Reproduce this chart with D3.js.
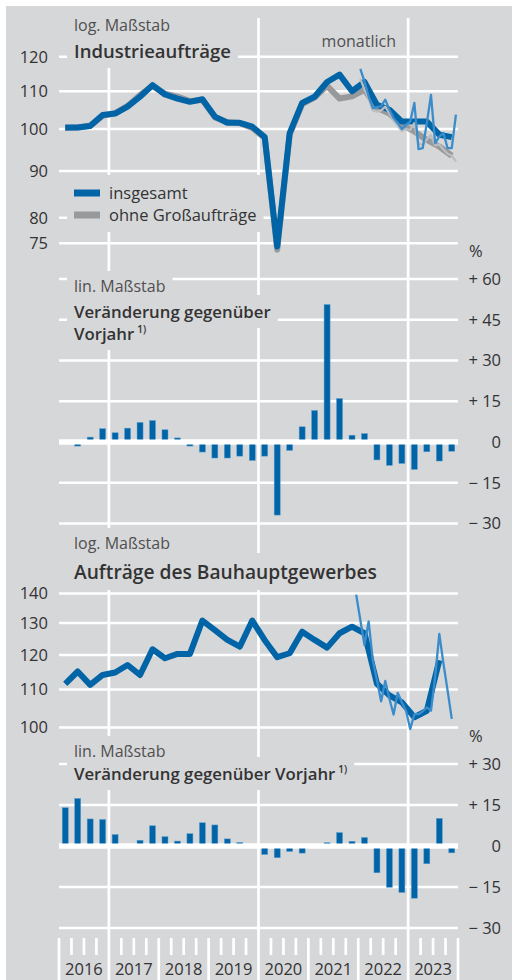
<!DOCTYPE html>
<html>
<head>
<meta charset="utf-8">
<script src="https://cdn.jsdelivr.net/npm/d3@7"></script>
<style>
body { margin: 0; background: #fff; }
svg { display: block; font-family: 'Open Sans', sans-serif; }
</style>
</head>
<body>
<svg id="chart" width="512" height="980"></svg>
<script>
let years = ['2016', '2017', '2018', '2019', '2020', '2021', '2022', '2023']

// Industrieaufträge, quarterly, 2016 Q1 .. 2023 Q4
let industryQ = [
	100.4, 100.4, 100.8, 103.6,
	104.0, 105.8, 108.5, 111.7,
	109.1, 108.0, 107.1, 107.8,
	103.2, 101.6, 101.6, 100.6,
	98.0, 74.4, 99.0, 106.8,
	108.5, 112.6, 114.7, 110.0,
	112.6, 106.3, 105.0, 101.9,
	101.9, 101.9, 98.6, 98.0
]
let industryExLargeQ = [
	100.3, 100.4, 100.9, 103.4,
	104.1, 106.0, 109.0, 111.5,
	109.3, 108.5, 107.3, 107.6,
	103.0, 101.8, 101.5, 100.3,
	97.8, 73.8, 98.6, 106.5,
	108.3, 111.5, 108.0, 108.6,
	110.4, 105.5, 104.0, 101.1,
	99.4, 97.3, 95.7, 93.5
]
// monthly from Jan 2022 (month index 72)
let industryMStart = 72
let industryM = [
	116.4, 112.7, 108.6, 105.4, 105.7, 105.9, 107.7, 105.0, 102.8, 101.5, 100.0, 101.1,
	101.9, 106.8, 95.1, 95.3, 101.5, 109.0, 96.5, 98.1, 99.0, 95.3, 95.3, 103.7
]
let industryExLargeM = [
	113.5, 110.5, 108.0, 104.8, 104.5, 104.8, 105.8, 104.0, 102.2, 100.8, 99.5, 100.0,
	99.8, 101.5, 96.5, 96.0, 97.5, 98.5, 96.0, 96.2, 95.0, 94.0, 93.5, 92.2
]
let industryYoY = [
	0, -1.5, 1.8, 4.9,
	3.4, 5.1, 7.2, 7.9,
	4.5, 1.5, -1.5, -3.7,
	-5.9, -5.9, -5.2, -6.8,
	-5.2, -26.9, -3.1, 5.6,
	11.6, 50.6, 16.0, 2.5,
	3.1, -6.6, -8.6, -7.9,
	-10.1, -3.6, -7.0, -3.4
]

// Aufträge des Bauhauptgewerbes, quarterly, 2016 Q1 .. 2023 Q3
let constructionQ = [
	111.6, 115.1, 111.3, 114.1,
	114.8, 117.0, 114.1, 121.7,
	119.0, 120.3, 120.3, 130.8,
	127.7, 124.6, 122.5, 130.8,
	124.5, 119.3, 120.5, 127.2,
	124.6, 122.2, 126.7, 128.8,
	126.7, 111.6, 108.4, 106.5,
	102.6, 104.3, 118.4
]
// monthly from Dec 2021 (month index 71)
let constructionMStart = 71
let constructionM = [
	139.6, 131.0, 123.0, 130.5, 118.4, 112.6, 106.8, 112.4, 107.5, 103.3, 109.1, 106.5,
	104.3, 99.6, 103.4, 103.4, 104.1, 105.2, 104.3, 113.5, 126.5, 117.4, 109.7, 102.2
]
let constructionYoY = [
	14.0, 17.4, 9.9, 9.7,
	4.2, 0, 2.1, 7.4,
	3.4, 1.8, 4.5, 8.5,
	7.7, 2.6, 1.3, -0.5,
	-3.1, -4.3, -2.0, -2.6,
	0.3, 1.2, 4.9, 1.7,
	3.1, -9.8, -15.1, -17.0,
	-19.1, -6.5, 10.1, -2.5
]

let industryTicks = [75, 80, 90, 100, 110, 120]
let constructionTicks = [100, 110, 120, 130, 140]
let yoyTicksTop = [-30, -15, 0, 15, 30, 45, 60]
let yoyTicksBottom = [-30, -15, 0, 15, 30]

let bg = '#d6d7d9'
let blue = '#0064a7'
let blueThin = '#3a8ccb'
let grayThick = '#98999b'
let grayThin = '#bcbdbf'
let ink = '#333333'
let soft = '#505050'

let svg = d3.select('#chart')

svg.append('rect')
	.attr('x', 6).attr('y', 6)
	.attr('width', 506).attr('height', 974)
	.attr('fill', bg)

let gridLayer = svg.append('g')
let knockLayer = svg.append('g')
let dataLayer = svg.append('g')
let textLayer = svg.append('g')

let x = d3.scaleLinear().domain([0, 32]).range([59, 458])
let qx = i => x(i + 0.5)
let mx = m => x((m + 0.5) / 3)

let yInd = d3.scaleLog().domain([75, 120]).range([243.3, 56.7])
let yYoyTop = d3.scaleLinear().domain([-30, 60]).range([523.5, 279])
let yCon = d3.scaleLog().domain([100, 140]).range([727.5, 593.5])
let yYoyBottom = d3.scaleLinear().domain([-30, 30]).range([928, 764])

let signed = d => d > 0 ? '+ ' + d : (d < 0 ? '\u2212 ' + Math.abs(d) : '0')

// horizontal grid
let grid = (ticks, y) => {
	gridLayer.selectAll(null)
		.data(ticks)
		.enter()
		.append('line')
		.attr('x1', x(0)).attr('x2', x(32))
		.attr('y1', d => y(d)).attr('y2', d => y(d))
		.attr('stroke', '#fff')
		.attr('stroke-width', d => d === 0 && y.domain()[0] < 0 ? 5 : 2.5)
}
grid(industryTicks, yInd)
grid(yoyTicksTop, yYoyTop)
grid(constructionTicks, yCon)
grid(yoyTicksBottom, yYoyBottom)

// year lines every three years
gridLayer.selectAll(null)
	.data([4, 16, 28])
	.enter()
	.append('line')
	.attr('x1', d => x(d)).attr('x2', d => x(d))
	.attr('y1', 18).attr('y2', 980)
	.attr('stroke', '#fff')
	.attr('stroke-width', 2.7)

// quarter ticks and year boundaries on bottom axis
let axisTicks = d3.range(0, 33).filter(q => [4, 16, 28].indexOf(q) < 0)
gridLayer.selectAll(null)
	.data(axisTicks)
	.enter()
	.append('line')
	.attr('x1', d => x(d)).attr('x2', d => x(d))
	.attr('y1', 938)
	.attr('y2', d => d % 4 === 0 ? 980 : 955)
	.attr('stroke', '#fff')
	.attr('stroke-width', 2.7)

textLayer.selectAll(null)
	.data(years)
	.enter()
	.append('text')
	.attr('x', (d, i) => x(i * 4 + 2))
	.attr('y', 975)
	.attr('text-anchor', 'middle')
	.attr('font-size', 16.5)
	.attr('fill', ink)
	.text(d => d)

// axis labels
let leftLabels = (ticks, y) => {
	textLayer.selectAll(null)
		.data(ticks)
		.enter()
		.append('text')
		.attr('x', 48)
		.attr('y', d => y(d))
		.attr('dy', '0.36em')
		.attr('text-anchor', 'end')
		.attr('font-size', 16.5)
		.attr('fill', ink)
		.text(d => d)
}
leftLabels(industryTicks, yInd)
leftLabels(constructionTicks, yCon)

let rightLabels = (ticks, y) => {
	textLayer.selectAll(null)
		.data(ticks)
		.enter()
		.append('text')
		.attr('x', 501)
		.attr('y', d => y(d))
		.attr('dy', '0.36em')
		.attr('text-anchor', 'end')
		.attr('font-size', 16.5)
		.attr('fill', ink)
		.text(signed)
}
rightLabels(yoyTicksTop, yYoyTop)
rightLabels(yoyTicksBottom, yYoyBottom)

textLayer.append('text').attr('x', 469).attr('y', 257)
	.attr('font-size', 16.5).attr('fill', ink).text('%')
textLayer.append('text').attr('x', 469).attr('y', 742)
	.attr('font-size', 16.5).attr('fill', ink).text('%')

// text that knocks out the grid behind it
let knock = (node, padX, padY) => {
	let b = node.getBBox()
	knockLayer.append('rect')
		.attr('x', b.x - padX)
		.attr('y', b.y - padY)
		.attr('width', b.width + padX * 2)
		.attr('height', b.height + padY * 2)
		.attr('fill', bg)
}

let note = (y, str) => {
	let t = textLayer.append('text')
		.attr('x', 74).attr('y', y)
		.attr('font-size', 16)
		.attr('fill', soft)
		.text(str)
	knock(t.node(), 7, 4)
	return t
}

let heading = (y, str, size, sup) => {
	let t = textLayer.append('text')
		.attr('x', 74).attr('y', y)
		.attr('font-size', size)
		.attr('font-weight', 600)
		.attr('fill', ink)
		.text(str)
	if (sup) {
		t.append('tspan')
			.attr('font-size', 10)
			.attr('dx', 3)
			.attr('dy', -7)
			.text(sup)
	}
	knock(t.node(), 7, 5)
	return t
}

note(31, 'log. Maßstab')
heading(58, 'Industrieaufträge', 18.5)
note(292, 'lin. Maßstab')
heading(318, 'Veränderung gegenüber', 16.8)
heading(340, 'Vorjahr', 16.8, '1)')
note(549, 'log. Maßstab')
heading(579, 'Aufträge des Bauhauptgewerbes', 19.2)
note(757, 'lin. Maßstab')
heading(780, 'Veränderung gegenüber Vorjahr', 16.8, '1)')

textLayer.append('text')
	.attr('x', 396).attr('y', 47)
	.attr('text-anchor', 'end')
	.attr('font-size', 16)
	.attr('fill', soft)
	.text('monatlich')

// legend
let legend = textLayer.append('g')
let legendItems = [
	{ label: 'insgesamt', color: blue, y: 193 },
	{ label: 'ohne Großaufträge', color: grayThick, y: 215 }
]
legendItems.forEach(d => {
	legend.append('line')
		.attr('x1', 74).attr('x2', 100)
		.attr('y1', d.y).attr('y2', d.y)
		.attr('stroke', d.color)
		.attr('stroke-width', 7)
	legend.append('text')
		.attr('x', 109).attr('y', d.y + 6)
		.attr('font-size', 16.5)
		.attr('fill', ink)
		.text(d.label)
})
knock(legend.node(), 7, 6)

// lines
let drawLine = (values, xf, y, color, width) => {
	let line = d3.line()
		.x((d, i) => xf(i))
		.y(d => y(d))
	dataLayer.append('path')
		.datum(values)
		.attr('d', line)
		.attr('fill', 'none')
		.attr('stroke', color)
		.attr('stroke-width', width)
		.attr('stroke-linejoin', 'round')
		.attr('stroke-linecap', 'butt')
}

drawLine(industryExLargeQ, qx, yInd, grayThick, 6)
drawLine(industryQ, qx, yInd, blue, 6)
drawLine(industryExLargeM, i => mx(industryMStart + i), yInd, grayThin, 2.3)
drawLine(industryM, i => mx(industryMStart + i), yInd, blueThin, 2.3)

drawLine(constructionQ, qx, yCon, blue, 6)
drawLine(constructionM, i => mx(constructionMStart + i), yCon, blueThin, 2.3)

// bars
let drawBars = (values, y) => {
	let g = dataLayer.append('g')
	g.selectAll('rect')
		.data(values)
		.enter()
		.append('rect')
		.attr('x', (d, i) => qx(i) - 3)
		.attr('width', 6)
		.attr('y', d => y(Math.max(0, d)))
		.attr('height', d => Math.abs(y(d) - y(0)))
		.attr('fill', blue)
		.attr('stroke', '#5b9dd2')
		.attr('stroke-width', 0.5)
	// zero line over the bars
	g.append('line')
		.attr('x1', x(0)).attr('x2', x(32))
		.attr('y1', y(0)).attr('y2', y(0))
		.attr('stroke', '#fff')
		.attr('stroke-width', 5)
}
drawBars(industryYoY, yYoyTop)
drawBars(constructionYoY, yYoyBottom)
</script>
</body>
</html>
